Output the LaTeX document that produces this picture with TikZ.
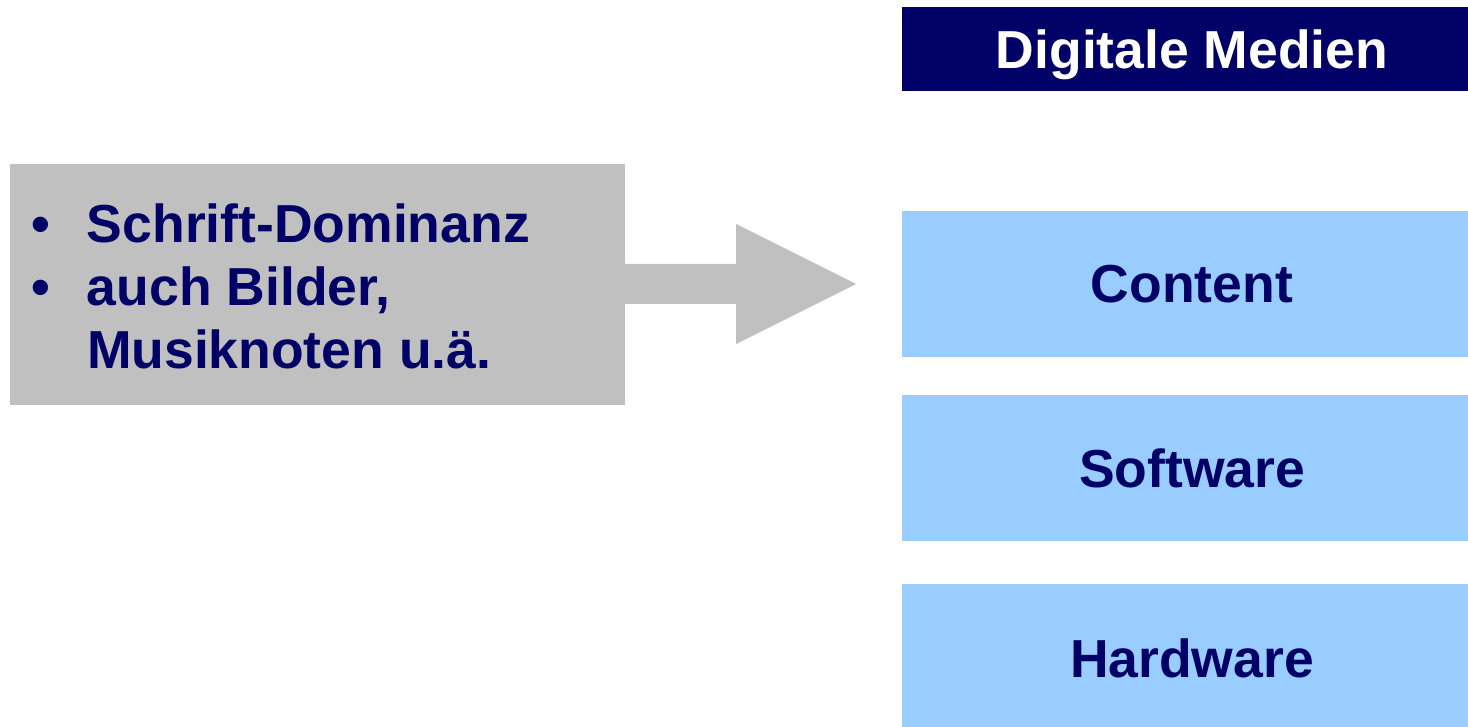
\documentclass[tikz,border=0pt]{standalone}
\usepackage{fontspec}
\setmainfont{Liberation Sans}
\definecolor{navy}{HTML}{000066}
\definecolor{lightblue}{HTML}{99CCFF}
\definecolor{boxgray}{HTML}{C0C0C0}
\begin{document}
\begin{tikzpicture}[x=1pt,y=-1pt,
  every node/.style={inner sep=0pt, outer sep=0pt, font=\fontsize{53.5}{63}\selectfont\bfseries},
  layerbox/.style={fill=lightblue, text=navy, minimum width=580pt, minimum height=146pt, anchor=north west, text depth=0pt},
  headbox/.style={fill=navy, text=white, minimum width=580pt, minimum height=84pt, anchor=north west, text depth=0pt},
  graybox/.style={fill=boxgray, minimum width=615pt, minimum height=241pt, anchor=north west},
  listline/.style={text=navy, anchor=base west},
  blockarrow/.style={fill=boxgray}
]
\useasboundingbox (0,0) rectangle (1468,727);
\fill[white] (0,0) rectangle (1468,727);
% right column
\node[headbox] (dm) at (902,7) {Digitale Medien};
\node[layerbox] (content) at (902,211) {Content};
\node[layerbox] (software) at (902,395) {Software};
\node[layerbox, minimum height=148pt] (hardware) at (902,584) {Hardware};
% gray box
\node[graybox] (gray) at (10,164) {};
\node[listline] (l1) at (31,243) {\makebox[56pt][l]{•}Schrift-Dominanz};
\node[listline] (l2) at (31,306) {\makebox[56pt][l]{•}auch Bilder,};
\node[listline] (l3) at (87,369) {Musiknoten u.ä.};
% arrow
\coordinate (tip) at (856,284);
\fill[blockarrow] ([xshift=-4pt]gray.east |- 0,264) -- (736,264) -- (736,224) -- (tip)
  -- (736,344) -- (736,304) -- ([xshift=-4pt]gray.east |- 0,304) -- cycle;
\end{tikzpicture}
\end{document}
